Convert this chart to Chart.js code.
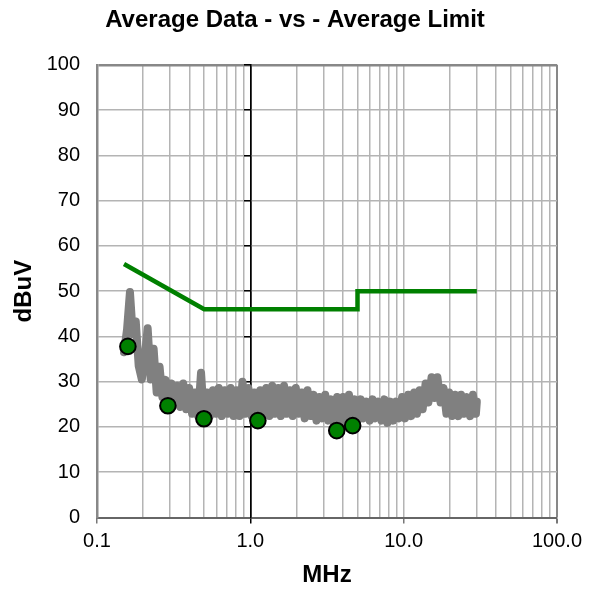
<!DOCTYPE html>
<html>
<head>
<meta charset="utf-8">
<script src="https://cdn.jsdelivr.net/npm/chart.js@4"></script>
<style>
  body { margin: 0; background: #fff; }
  #wrap { width: 596px; height: 590px; }
</style>
</head>
<body>
<div id="wrap"><canvas id="chart"></canvas></div>
<script>
// measured trace (MHz / dBuV)
const traceFreq = [0.150, 0.157, 0.164, 0.171, 0.179, 0.187, 0.196, 0.205, 0.214, 0.224,
  0.234, 0.245, 0.256, 0.267, 0.280, 0.292, 0.306, 0.320, 0.334, 0.349,
  0.365, 0.382, 0.399, 0.417, 0.436, 0.456, 0.477, 0.499, 0.521, 0.545,
  0.570, 0.596, 0.623, 0.651, 0.681, 0.712, 0.744, 0.778, 0.813, 0.850,
  0.889, 0.929, 0.971, 1.02, 1.06, 1.11, 1.16, 1.21, 1.27, 1.33,
  1.39, 1.45, 1.52, 1.58, 1.66, 1.73, 1.81, 1.89, 1.98, 2.07,
  2.16, 2.26, 2.36, 2.47, 2.58, 2.70, 2.82, 2.95, 3.08, 3.22,
  3.37, 3.52, 3.68, 3.85, 4.02, 4.21, 4.40, 4.60, 4.80, 5.02,
  5.25, 5.49, 5.74, 6.00, 6.27, 6.55, 6.85, 7.16, 7.49, 7.83,
  8.18, 8.55, 8.94, 9.35, 9.77, 10.2, 10.7, 11.2, 11.7, 12.2,
  12.7, 13.3, 13.9, 14.5, 15.2, 15.9, 16.6, 17.4, 18.2, 19.0,
  19.8, 20.7, 21.7, 22.7, 23.7, 24.8, 25.9, 27.1, 28.3, 29.6, 30.0];
const traceLevel = [36.5, 41.5, 49.8, 40.5, 43.3, 33.5, 30.5, 35.5, 41.8, 30.5,
  37.3, 27.6, 33.3, 26.6, 30.4, 25.6, 29.6, 24.9, 29.1, 24.4,
  29.6, 23.9, 28.6, 22.9, 27.6, 22.4, 32.0, 21.9, 27.6, 22.4,
  28.1, 22.9, 28.6, 22.4, 28.1, 22.9, 28.6, 22.4, 28.1, 22.4,
  30.0, 22.9, 28.6, 22.4, 27.6, 21.9, 28.1, 22.9, 28.6, 22.4,
  29.1, 22.9, 28.6, 22.4, 29.1, 22.9, 28.1, 22.4, 28.6, 22.9,
  27.6, 21.9, 28.1, 22.4, 27.1, 21.4, 26.6, 21.9, 27.1, 21.4,
  26.1, 20.9, 26.6, 21.4, 26.6, 20.9, 27.1, 21.4, 26.1, 21.4,
  26.1, 21.9, 25.6, 21.4, 26.1, 21.9, 25.6, 21.4, 26.1, 20.9,
  25.6, 21.4, 25.6, 21.9, 26.6, 21.9, 27.1, 22.4, 27.6, 22.9,
  28.1, 23.9, 29.6, 25.4, 31.0, 26.4, 31.0, 25.4, 28.6, 22.9,
  27.6, 22.4, 27.1, 22.4, 27.1, 22.9, 26.6, 22.4, 27.1, 22.9, 25.6];

// average limit
const limitFreq = [0.15, 0.5, 5, 5, 30];
const limitLevel = [56, 46, 46, 50, 50];

// average readings
const peakFreq = [0.159, 0.29, 0.498, 1.12, 3.66, 4.65];
const peakLevel = [37.8, 24.7, 21.8, 21.4, 19.2, 20.3];

const xGridValues = [0.1, 0.2, 0.3, 0.4, 0.5, 0.6, 0.7, 0.8, 0.9,
  1, 2, 3, 4, 5, 6, 7, 8, 9, 10, 20, 30, 40, 50, 60, 70, 80, 90, 100];
const xMajor = [0.1, 1, 10, 100];
const xTickLabels = ['0.1', '1.0', '10.0', '100.0'];

const toXY = (xs, ys) => xs.map((x, i) => ({x: x, y: ys[i]}));
const majorIndex = v => xMajor.findIndex(m => Math.abs(m - v) < 1e-9);

new Chart(document.getElementById('chart'), {
  type: 'line',
  data: {
    datasets: [{
      label: 'Average Readings',
      data: toXY(peakFreq, peakLevel),
      showLine: false,
      pointRadius: 7.8,
      pointBackgroundColor: '#008000',
      pointBorderColor: '#000',
      pointBorderWidth: 2,
      order: 0
    }, {
      label: 'Average Limit',
      data: toXY(limitFreq, limitLevel),
      borderColor: '#008000',
      borderWidth: 4.5,
      pointRadius: 0,
      order: 1
    }, {
      label: 'Average Data',
      data: toXY(traceFreq, traceLevel),
      borderColor: '#808080',
      borderWidth: 8,
      borderJoinStyle: 'round',
      borderCapStyle: 'round',
      pointRadius: 0,
      order: 2
    }]
  },
  options: {
    responsive: true,
    maintainAspectRatio: false,
    animation: false,
    layout: { padding: { left: 8, right: 14, top: 0, bottom: 0 } },
    plugins: {
      legend: { display: false },
      tooltip: { enabled: false },
      title: {
        display: true,
        text: 'Average Data - vs - Average Limit',
        color: '#000',
        font: { family: 'Liberation Sans, Arial', size: 24, weight: 'bold' },
        padding: { top: 6, bottom: 30 }
      }
    },
    scales: {
      x: {
        type: 'logarithmic',
        min: 0.1,
        max: 100,
        afterBuildTicks: s => { s.ticks = xGridValues.map(v => ({value: v})); },
        afterFit: s => { s.height = 72.5; },
        ticks: {
          autoSkip: false,
          maxRotation: 0,
          padding: 6,
          color: '#000',
          font: { family: 'Liberation Sans, Arial', size: 20 },
          callback: v => { const i = majorIndex(v); return i >= 0 ? xTickLabels[i] : ''; }
        },
        grid: {
          color: c => c.tick && Math.abs(c.tick.value - 1) < 1e-9 ? '#000' :
            (c.tick && c.tick.value === 100 ? '#888' : '#b4b4b4'),
          lineWidth: c => c.tick && (c.tick.value === 100) ? 2 : 1.5,
          tickLength: 6,
          tickColor: c => c.tick && majorIndex(c.tick.value) >= 0 ?
            (Math.abs(c.tick.value - 1) < 1e-9 ? '#000' : '#777') : 'rgba(0,0,0,0)'
        },
        border: { color: '#666', width: 2 },
        title: {
          display: true,
          text: 'MHz',
          color: '#000',
          font: { family: 'Liberation Sans, Arial', size: 24, weight: 'bold' },
          padding: { top: 0, bottom: 0 }
        }
      },
      y: {
        min: 0,
        max: 100,
        afterFit: s => { s.width = 89; },
        ticks: {
          stepSize: 10,
          padding: 17,
          color: '#000',
          font: { family: 'Liberation Sans, Arial', size: 20 }
        },
        grid: {
          drawTicks: false,
          color: c => c.tick && c.tick.value === 100 ? '#888' : '#b4b4b4',
          lineWidth: c => c.tick && c.tick.value === 100 ? 2.5 : 1.5
        },
        border: { color: '#888', width: 2.5 },
        title: {
          display: true,
          text: 'dBuV',
          color: '#000',
          font: { family: 'Liberation Sans, Arial', size: 24, weight: 'bold' },
          padding: { top: 2, bottom: 0 }
        }
      },
      yCross: {
        position: { x: 1 },
        min: 0,
        max: 100,
        ticks: { display: false, stepSize: 10 },
        grid: { drawOnChartArea: false, tickLength: 6, tickColor: '#000', lineWidth: 1.5 },
        border: { color: '#000', width: 1.5 }
      },
      ySpacer: {
        position: 'right',
        afterFit: s => { s.width = 25; },
        ticks: { display: false },
        grid: { display: false },
        border: { display: false }
      }
    }
  }
});
</script>
</body>
</html>
